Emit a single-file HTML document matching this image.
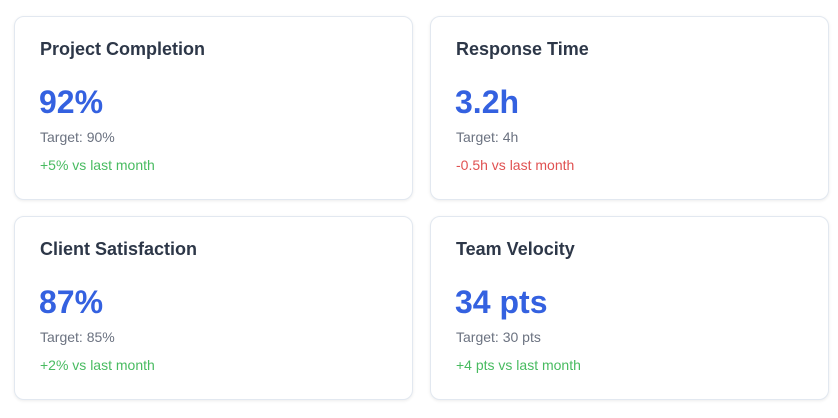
<!DOCTYPE html>
<html><head><meta charset="utf-8"><style>
*{box-sizing:border-box;margin:0;padding:0}
body{width:838px;height:418px;background:#fff;font-family:"Liberation Sans",Arial,sans-serif;position:relative;overflow:hidden}
.card{position:absolute;width:399px;height:184px;background:#fff;border:1px solid #e2e8f0;border-radius:10px;box-shadow:0 1px 3px rgba(0,0,0,0.08)}
.t{position:absolute;left:25px;top:22px;font-size:18px;font-weight:bold;color:#2d3748;white-space:nowrap}
.v{position:absolute;left:24px;top:67px;font-size:32px;font-weight:bold;color:#3461e0;white-space:nowrap}
.g{position:absolute;left:25px;top:112px;font-size:14px;color:#6b7280;white-space:nowrap}
.c{position:absolute;left:25px;top:140px;font-size:14px;white-space:nowrap}
.up{color:#48bb60}.dn{color:#e05252}
</style></head><body>
<div class="card" style="left:14px;top:16px">
<div class="t">Project Completion</div>
<div class="v">92%</div>
<div class="g">Target: 90%</div>
<div class="c up">+5% vs last month</div>
</div>
<div class="card" style="left:430px;top:16px">
<div class="t">Response Time</div>
<div class="v">3.2h</div>
<div class="g">Target: 4h</div>
<div class="c dn">-0.5h vs last month</div>
</div>
<div class="card" style="left:14px;top:216px">
<div class="t">Client Satisfaction</div>
<div class="v">87%</div>
<div class="g">Target: 85%</div>
<div class="c up">+2% vs last month</div>
</div>
<div class="card" style="left:430px;top:216px">
<div class="t">Team Velocity</div>
<div class="v">34 pts</div>
<div class="g">Target: 30 pts</div>
<div class="c up">+4 pts vs last month</div>
</div>
</body></html>
